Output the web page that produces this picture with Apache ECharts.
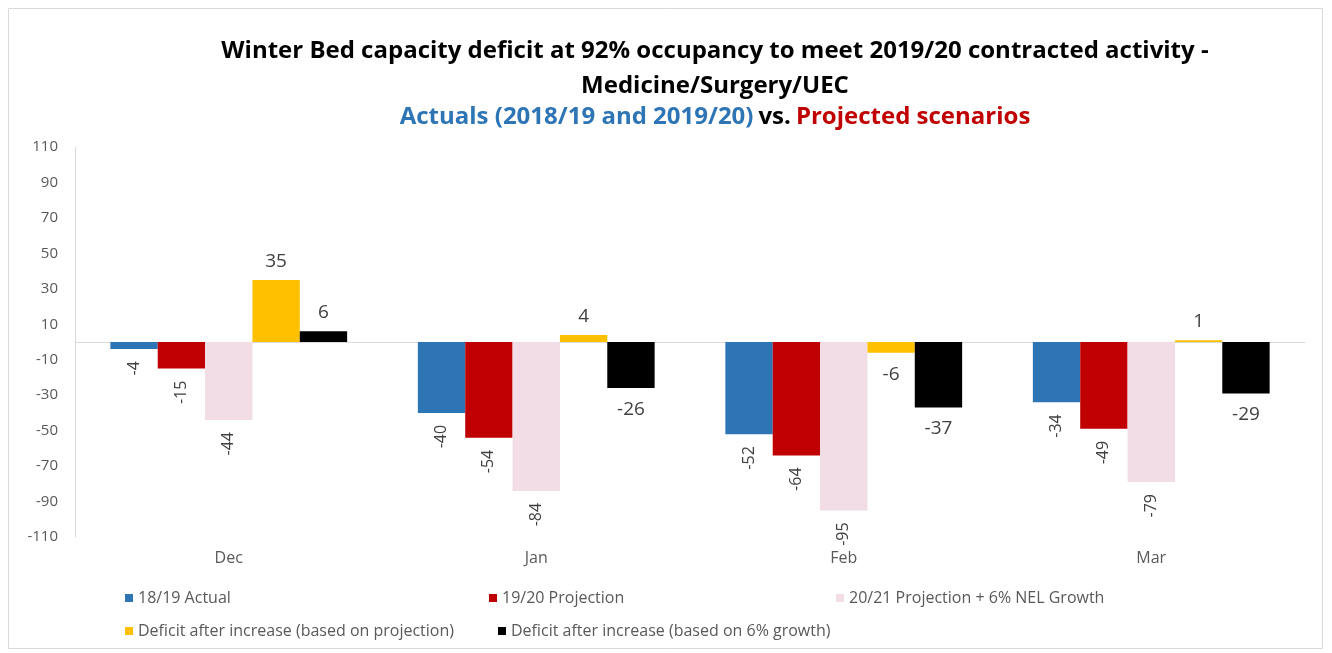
<!DOCTYPE html>
<html><head><meta charset="utf-8">
<script src="https://cdn.jsdelivr.net/npm/echarts@6/dist/echarts.min.js"></script>
<style>html,body{margin:0;padding:0;background:#fff}#c{width:1332px;height:653px}</style>
</head><body><div id="c"></div>
<script>
const categories = ['Dec', 'Jan', 'Feb', 'Mar'];
const seriesNames = ['18/19 Actual', '19/20 Projection', '20/21 Projection + 6% NEL Growth',
  'Deficit after increase (based on projection)', 'Deficit after increase (based on 6% growth)'];
const actual1819 = [-4, -40, -52, -34];
const projection1920 = [-15, -54, -64, -49];
const projection2021 = [-44, -84, -95, -79];
const deficitProjection = [35, 4, -6, 1];
const deficitGrowth = [6, -26, -37, -29];
const yTickLabels = [-110, -90, -70, -50, -30, -10, 10, 30, 50, 70, 90, 110];

const colors = ['#2E75B6', '#C00000', '#F2DCE6', '#FFC000', '#000000'];
const FONT = '"Open Sans", "Noto Sans", sans-serif';
const chart = echarts.init(document.getElementById('c'));

function rotatedLabel() {
  return { show: true, position: 'bottom', distance: 12, rotate: 90, align: 'right', verticalAlign: 'middle',
    color: '#404040', fontSize: 16, fontFamily: FONT };
}
function flatLabel(v) {
  return { show: true, position: v >= 0 ? 'top' : 'bottom', distance: v >= 0 ? 9 : 12,
    color: '#404040', fontSize: 19, fontFamily: FONT };
}
const dataSets = [actual1819, projection1920, projection2021, deficitProjection, deficitGrowth];
const series = dataSets.map((d, i) => ({
  name: seriesNames[i], type: 'bar', barGap: '0%', barCategoryGap: '23%',
  itemStyle: { color: colors[i] },
  data: d.map(v => ({ value: v, label: i < 3 ? rotatedLabel() : flatLabel(v) }))
}));

const legendPos = [[125, 590], [489, 590], [836, 590], [125, 623], [498, 623]];
const legends = seriesNames.map((n, i) => ({
  data: [n], left: legendPos[i][0], top: legendPos[i][1], padding: 0, itemWidth: 8, itemHeight: 8, icon: 'rect',
  itemGap: 0, textStyle: { color: '#595959', fontSize: 16, fontFamily: FONT }, selectedMode: false
}));

chart.setOption({
  animation: false,
  color: colors,
  title: [{
    text: 'Winter Bed capacity deficit at 92% occupancy to meet 2019/20 contracted activity -\nMedicine/Surgery/UEC',
    left: 710, top: 29, textAlign: 'center',
    textStyle: { fontSize: 24, fontWeight: 'bold', color: '#000', fontFamily: FONT, lineHeight: 35 }
  }, {
    text: '{b|Actuals (2018/19 and 2019/20)} {k|vs.} {r|Projected scenarios}',
    left: 710, top: 97, textAlign: 'center',
    textStyle: { rich: {
      b: { fontSize: 24, fontWeight: 'bold', color: '#2E75B6', fontFamily: FONT, lineHeight: 30 },
      k: { fontSize: 24, fontWeight: 'bold', color: '#000', fontFamily: FONT, lineHeight: 30 },
      r: { fontSize: 24, fontWeight: 'bold', color: '#C00000', fontFamily: FONT, lineHeight: 30 }
    } }
  }],
  legend: legends,
  grid: { left: 75, right: 27, top: 147, bottom: 116 },
  xAxis: [{
    type: 'category', data: categories, position: 'bottom',
    axisLine: { show: false, onZero: false }, axisTick: { show: false },
    axisLabel: { color: '#595959', fontSize: 16, fontFamily: FONT, margin: 13 }
  }, {
    type: 'category', data: categories, position: 'bottom',
    axisLine: { show: true, onZero: true, lineStyle: { color: '#D9D9D9', width: 1 } },
    axisTick: { show: false }, axisLabel: { show: false }
  }],
  yAxis: {
    type: 'value', min: -110, max: 110, interval: 10,
    axisLine: { show: true, lineStyle: { color: '#D9D9D9' } }, axisTick: { show: false },
    splitLine: { show: false },
    axisLabel: { color: '#595959', fontSize: 15, fontFamily: FONT, margin: 17,
      formatter: v => yTickLabels.indexOf(v) >= 0 ? String(v) : '' }
  },
  graphic: [{ type: 'rect', shape: { x: 8.5, y: 8.5, width: 1314, height: 640 },
    style: { fill: 'none', stroke: '#D9D9D9', lineWidth: 1 }, silent: true }],
  series: series
});
</script></body></html>
